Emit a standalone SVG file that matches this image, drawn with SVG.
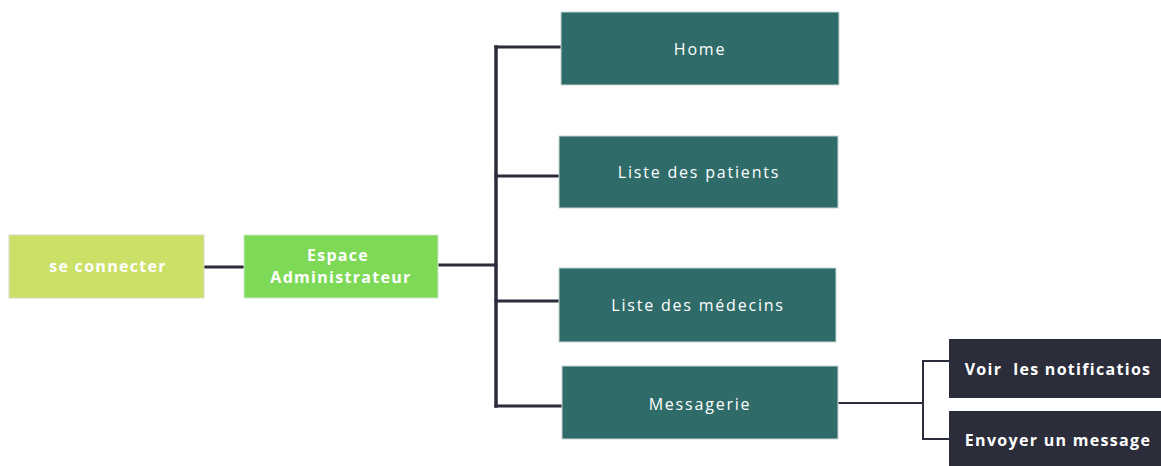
<svg xmlns="http://www.w3.org/2000/svg" width="1161" height="466" viewBox="0 0 1161 466">
<style>
.t{font-family:"Open Sans","Liberation Sans",sans-serif;fill:#fff;text-anchor:middle;dominant-baseline:central;}
.teal rect{fill:#2f6b68;stroke:#c9d6d4;stroke-width:1}
.teal text{font-size:16px;letter-spacing:1.8px}
.b{font-weight:bold;font-size:16px;letter-spacing:1.3px}
.dark rect{fill:#2b2d3a}
.c{fill:none;stroke:#2b2d3a;stroke-linecap:square}
</style>
<rect width="1161" height="466" fill="#fff"/>
<g id="connectors">
<line class="c" x1="204" y1="267" x2="244" y2="267" stroke-width="3"/>
<line class="c" x1="438" y1="265" x2="496" y2="265" stroke-width="3"/>
<line class="c" x1="496" y1="47" x2="496" y2="406" stroke-width="3.5"/>
<line class="c" x1="496" y1="47" x2="561" y2="47" stroke-width="3"/>
<line class="c" x1="496" y1="176" x2="559" y2="176" stroke-width="3"/>
<line class="c" x1="496" y1="301" x2="559" y2="301" stroke-width="3"/>
<line class="c" x1="496" y1="406" x2="562" y2="406" stroke-width="3"/>
<line class="c" x1="838" y1="403" x2="923" y2="403" stroke-width="2"/>
<polyline class="c" points="949,361 923,361 923,439 949,439" stroke-width="2"/>
</g>
<g id="se-connecter">
<rect x="9" y="235" width="195" height="63" fill="#cbe066" stroke="#d8dcc8" stroke-width="1"/>
<text class="t b" x="108" y="266">se connecter</text>
</g>
<g id="espace-admin">
<rect x="244" y="235" width="194" height="63" fill="#7ed957" stroke="#d0e8c8" stroke-width="1"/>
<text class="t b" x="338" y="255">Espace</text>
<text class="t b" x="341" y="277">Administrateur</text>
</g>
<g id="home" class="teal">
<rect x="561" y="12" width="278" height="73"/>
<text class="t" x="700" y="49">Home</text>
</g>
<g id="patients" class="teal">
<rect x="559" y="136" width="279" height="72"/>
<text class="t" x="699" y="172">Liste des patients</text>
</g>
<g id="medecins" class="teal">
<rect x="559" y="268" width="277" height="74"/>
<text class="t" x="698" y="305">Liste des médecins</text>
</g>
<g id="messagerie" class="teal">
<rect x="562" y="366" width="276" height="73"/>
<text class="t" x="700" y="404">Messagerie</text>
</g>
<g id="notifications" class="dark">
<rect x="949" y="339" width="212" height="59"/>
<text class="t b" x="1058" y="369" xml:space="preserve">Voir  les notificatios</text>
</g>
<g id="envoyer" class="dark">
<rect x="949" y="411" width="212" height="55"/>
<text class="t b" x="1058" y="440">Envoyer un message</text>
</g>
</svg>
